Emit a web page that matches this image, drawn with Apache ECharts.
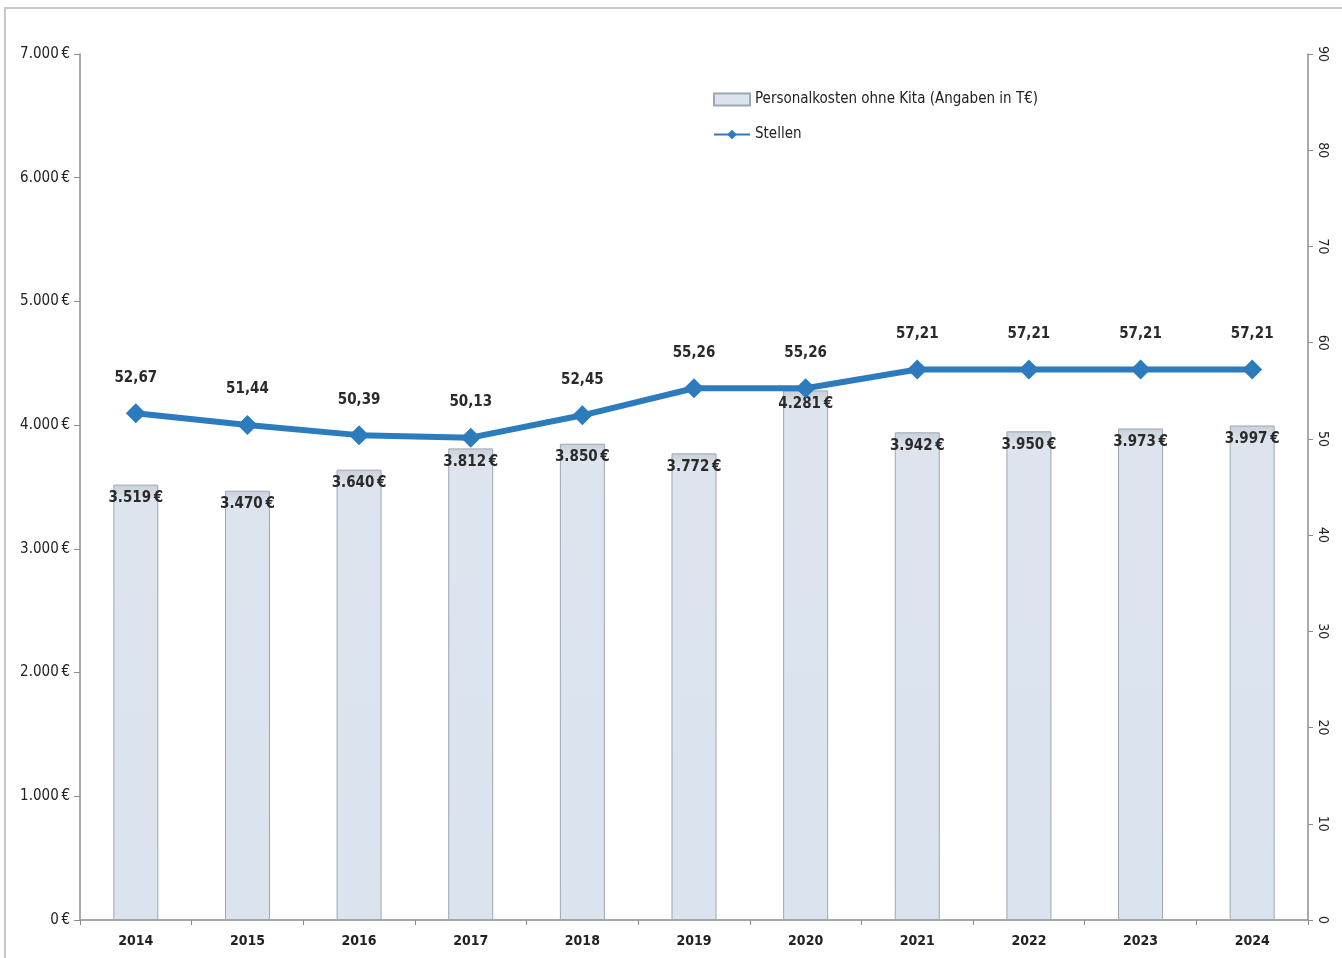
<!DOCTYPE html>
<html><head><meta charset="utf-8">
<script src="https://cdn.jsdelivr.net/npm/echarts@6/dist/echarts.min.js"></script>
<style>html,body{margin:0;padding:0;background:#fff}#c{width:1342px;height:958px}</style>
</head><body><div id="c"></div>
<script>
const years = ['2014','2015','2016','2017','2018','2019','2020','2021','2022','2023','2024'];
const personalkosten = [3519, 3470, 3640, 3812, 3850, 3772, 4281, 3942, 3950, 3973, 3997];
const stellen = [52.67, 51.44, 50.39, 50.13, 52.45, 55.26, 55.26, 57.21, 57.21, 57.21, 57.21];
const barName = 'Personalkosten ohne Kita (Angaben in T€)';
const lineName = 'Stellen';

const FONT = '"DejaVu Sans Condensed", "Liberation Sans Narrow", Arial, sans-serif';
function euro(v){
  const s = String(Math.round(v)).replace(/\B(?=(\d{3})+(?!\d))/g, '.');
  return s + '\u2009€';
}
const chart = echarts.init(document.getElementById('c'));
chart.setOption({
  backgroundColor: '#fff',
  animation: false,
  textStyle: { fontFamily: FONT },
  graphic: [{
    type: 'rect', shape: { x: 5, y: 8, width: 1400, height: 1000 },
    style: { fill: 'none', stroke: '#c8c8c8', lineWidth: 2 }, silent: true
  }],
  legend: {
    orient: 'vertical', left: 708, top: 87, itemGap: 20, itemWidth: 36, itemHeight: 12,
    textStyle: { fontFamily: FONT, fontSize: 15, color: '#222' },
    data: [
      { name: barName, icon: 'rect' },
      { name: lineName }
    ]
  },
  grid: { left: 80, right: 34, top: 54, bottom: 38 },
  xAxis: {
    type: 'category', data: years, boundaryGap: true,
    axisLine: { lineStyle: { color: '#8c8c8c', width: 1.5 } },
    axisTick: { show: true, alignWithLabel: false, length: 5, lineStyle: { color: '#8c8c8c' } },
    axisLabel: { fontFamily: FONT, fontSize: 14, color: '#222', fontWeight: 'bold', margin: 14 }
  },
  yAxis: [{
    type: 'value', min: 0, max: 7000, interval: 1000,
    axisLine: { show: true, lineStyle: { color: '#8c8c8c', width: 1.5 } },
    axisTick: { show: true, length: 6, lineStyle: { color: '#8c8c8c' } },
    splitLine: { show: false },
    axisLabel: { fontFamily: FONT, fontSize: 15, color: '#222', margin: 10, formatter: euro }
  }, {
    type: 'value', min: 0, max: 90, interval: 10, position: 'right',
    axisLine: { show: true, lineStyle: { color: '#8c8c8c', width: 1.5 } },
    axisTick: { show: true, length: 5, lineStyle: { color: '#8c8c8c' } },
    splitLine: { show: false },
    axisLabel: { fontFamily: FONT, fontSize: 14, color: '#222', rotate: -90, margin: 8 }
  }],
  series: [{
    name: barName, type: 'bar', yAxisIndex: 0, data: personalkosten, barWidth: 45,
    itemStyle: {
      color: new echarts.graphic.LinearGradient(0, 0, 0, 1, [
        { offset: 0, color: '#c9d0da' }, { offset: 0.03, color: '#dde4ee' }, { offset: 1, color: '#dbe3ee' }
      ]),
      borderColor: '#9ea6b2', borderWidth: 1
    },
    label: {
      show: true, position: 'insideTop', distance: 6, fontFamily: FONT, fontSize: 15,
      fontWeight: 'bold', color: '#2a2a2a', formatter: p => euro(p.value)
    },
    z: 1
  }, {
    name: lineName, type: 'line', yAxisIndex: 1, data: stellen,
    symbol: 'diamond', symbolSize: 20,
    lineStyle: { color: '#2b7bbd', width: 6 },
    itemStyle: { color: '#2b7bbd' },
    label: {
      show: true, position: 'top', distance: 18, fontFamily: FONT, fontSize: 15,
      fontWeight: 'bold', color: '#2a2a2a', formatter: p => p.value.toFixed(2).replace('.', ',')
    },
    z: 3
  }]
});
</script></body></html>
